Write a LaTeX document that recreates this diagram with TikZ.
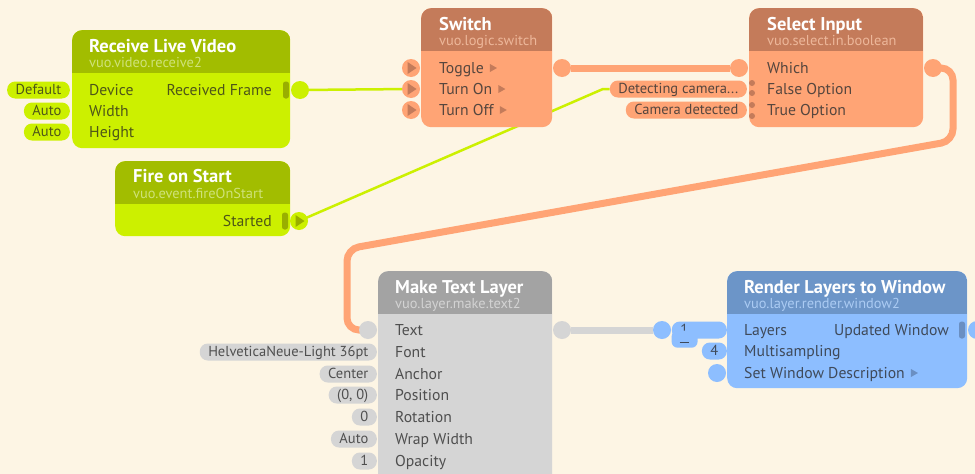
\documentclass[tikz,border=0pt]{standalone}
\usepackage{fontspec}
\setmainfont{PT Sans}
\usetikzlibrary{calc}

\pgfdeclarelayer{back}
\pgfdeclarelayer{wires}
\pgfsetlayers{back,wires,main}

\definecolor{canvas}{HTML}{FDF5E4}
\definecolor{grnH}{HTML}{A2BD00}
\definecolor{grnB}{HTML}{CCF000}
\definecolor{grnS}{HTML}{CFE27A}
\definecolor{grnD}{HTML}{99AE00}
\definecolor{grnT}{HTML}{4E5618}
\definecolor{orgH}{HTML}{C47B5A}
\definecolor{orgB}{HTML}{FFA475}
\definecolor{orgS}{HTML}{EDB79A}
\definecolor{orgT}{HTML}{56463E}
\definecolor{gryH}{HTML}{A3A3A3}
\definecolor{gryB}{HTML}{D5D5D5}
\definecolor{gryS}{HTML}{D3D3D3}
\definecolor{gryT}{HTML}{4F4F4F}
\definecolor{bluH}{HTML}{6C95C8}
\definecolor{bluB}{HTML}{8DBEFF}
\definecolor{bluS}{HTML}{ABCBF3}
\definecolor{bluD}{HTML}{6A8FC2}
\definecolor{bluT}{HTML}{3F4A5A}

% event triangles: in a port circle, and after a label
\newcommand{\portevt}[2]{\fill[#1] (#2) ++(-3.5pt,6pt) -- ++(9pt,-6pt) -- ++(-9pt,-6pt) -- cycle;}
\newcommand{\lblevt}[2]{\fill[#1] (#2) ++(0pt,4pt) -- ++(7pt,-4pt) -- ++(-7pt,-4pt) -- cycle;}

\begin{document}
\begin{tikzpicture}[
    x=1pt, y=-1pt,
    blk/.style={anchor=north west, rounded corners=10pt, inner sep=0pt},
    hdr/.style={path picture={\fill[#1, sharp corners] (path picture bounding box.north west)
        rectangle ([yshift=-43pt]path picture bounding box.north east);}},
    ttl/.style={anchor=base west, inner sep=0pt, text=white, font=\bfseries\fontsize{18.5}{20}\selectfont},
    sub/.style={anchor=base west, inner sep=0pt, font=\fontsize{14.4}{16}\selectfont},
    lbl/.style={anchor=base west, yshift=-5pt, inner sep=0pt, font=\fontsize{15.7}{17}\selectfont},
    rlbl/.style={lbl, anchor=base east},
    pill/.style={anchor=east, rounded corners=8pt, minimum height=17pt, inner xsep=8.5pt,
        inner ysep=0pt, text height=11pt, text depth=2pt, font=\fontsize{14.5}{15}\selectfont},
    port/.style={circle, inner sep=0pt, minimum size=18pt},
    dot/.style={circle, inner sep=0pt, minimum size=6pt, fill=orgH},
    bar/.style={rounded corners=2.5pt, minimum width=6pt, minimum height=17pt, inner sep=0pt},
    wire/.style={line width=2.5pt},
    fat/.style={line width=7pt}
  ]
    \useasboundingbox (0,0) rectangle (975,474);
    \begin{pgfonlayer}{back}
      \fill[canvas] (0,0) rectangle (975,474);
    \end{pgfonlayer}

    % Receive Live Video
    \node[blk, fill=grnB, hdr=grnH, minimum width=218pt, minimum height=118pt] (recv) at (72,30) {};
    \node[ttl] (recv-t) at (89,52) {Receive Live Video};
    \node[sub, text=grnS] (recv-s) at (89,67) {vuo.video.receive2};
    \node[lbl, text=grnT] (recv-l1) at (89,90) {Device};
    \node[lbl, text=grnT] (recv-l2) at (89,111) {Width};
    \node[lbl, text=grnT] (recv-l3) at (89,132) {Height};
    \node[rlbl, text=grnT] (recv-o1) at (272,90) {Received Frame};
    \node[bar, fill=grnD] (recv-bar) at (286,90) {};
    \node[port, fill=grnB] (recv-out) at (300,90) {};
    \node[pill, fill=grnB, text=grnT] (recv-v1) at (70,90) {Default};
    \node[pill, fill=grnB, text=grnT] (recv-v2) at (70,111) {Auto};
    \node[pill, fill=grnB, text=grnT] (recv-v3) at (70,132) {Auto};

    % Fire on Start
    \node[blk, fill=grnB, hdr=grnH, minimum width=175pt, minimum height=75pt] (fire) at (115,161) {};
    \node[ttl] (fire-t) at (133,182) {Fire on Start};
    \node[sub, text=grnS] (fire-s) at (133,198) {vuo.event.fireOnStart};
    \node[rlbl, text=grnT] (fire-o1) at (272,221) {Started};
    \node[bar, fill=grnD] (fire-bar) at (285,221) {};
    \node[port, fill=grnB] (fire-out) at (299,221) {};
    \portevt{grnD}{fire-out.center}

    % Switch
    \node[blk, fill=orgB, hdr=orgH, minimum width=131pt, minimum height=119pt] (sw) at (421,8) {};
    \node[ttl] (sw-t) at (439,30) {Switch};
    \node[sub, text=orgS] (sw-s) at (439,45) {vuo.logic.switch};
    \node[lbl, text=orgT] (sw-l1) at (439,68) {Toggle};
    \node[lbl, text=orgT] (sw-l2) at (439,89) {Turn On};
    \node[lbl, text=orgT] (sw-l3) at (439,110) {Turn Off};
    \lblevt{orgH}{[xshift=6pt, yshift=5pt]sw-l1.base east}
    \lblevt{orgH}{[xshift=6pt, yshift=5pt]sw-l2.base east}
    \lblevt{orgH}{[xshift=6pt, yshift=5pt]sw-l3.base east}
    \node[port, fill=orgB] (sw-p1) at (411,68) {};
    \node[port, fill=orgB] (sw-p2) at (411,89) {};
    \node[port, fill=orgB] (sw-p3) at (411,110) {};
    \portevt{orgH}{sw-p1.center}
    \portevt{orgH}{sw-p2.center}
    \portevt{orgH}{sw-p3.center}
    \node[port, fill=orgB] (sw-out) at (562,68) {};

    % Select Input
    \node[blk, fill=orgB, hdr=orgH, minimum width=174pt, minimum height=119pt] (sel) at (749,8) {};
    \node[ttl] (sel-t) at (767,30) {Select Input};
    \node[sub, text=orgS] (sel-s) at (767,45) {vuo.select.in.boolean};
    \node[lbl, text=orgT] (sel-l1) at (767,68) {Which};
    \node[lbl, text=orgT] (sel-l2) at (767,89) {False Option};
    \node[lbl, text=orgT] (sel-l3) at (767,110) {True Option};
    \node[port, fill=orgB] (sel-in1) at (739,68) {};
    \node[dot] (sel-d1) at (752,83) {};
    \node[dot] (sel-d2) at (752,93) {};
    \node[dot] (sel-d3) at (752,105) {};
    \node[dot] (sel-d4) at (752,116) {};
    \node[pill, fill=orgB, text=orgT] (sel-v1) at (747,89) {Detecting camera...};
    \node[pill, fill=orgB, text=orgT] (sel-v2) at (747,110) {Camera detected};
    \node[port, fill=orgB] (sel-out) at (933,68) {};

    % Make Text Layer
    \node[blk, fill=gryB, hdr=gryH, minimum width=174pt, minimum height=240pt] (mt) at (378,271) {};
    \node[ttl] (mt-t) at (395,293) {Make Text Layer};
    \node[sub, text=gryS] (mt-s) at (395,308) {vuo.layer.make.text2};
    \node[lbl, text=gryT] (mt-l1) at (395,330) {Text};
    \node[lbl, text=gryT] (mt-l2) at (395,352) {Font};
    \node[lbl, text=gryT] (mt-l3) at (395,374) {Anchor};
    \node[lbl, text=gryT] (mt-l4) at (395,395) {Position};
    \node[lbl, text=gryT] (mt-l5) at (395,417) {Rotation};
    \node[lbl, text=gryT] (mt-l6) at (395,439) {Wrap Width};
    \node[lbl, text=gryT] (mt-l7) at (395,461) {Opacity};
    \node[port, fill=gryB] (mt-p1) at (368,330) {};
    \node[pill, fill=gryB, text=gryT] (mt-v2) at (377,352) {HelveticaNeue-Light 36pt};
    \node[pill, fill=gryB, text=gryT] (mt-v3) at (377,374) {Center};
    \node[pill, fill=gryB, text=gryT] (mt-v4) at (377,395) {(0, 0)};
    \node[pill, fill=gryB, text=gryT] (mt-v5) at (377,417) {0};
    \node[pill, fill=gryB, text=gryT] (mt-v6) at (377,439) {Auto};
    \node[pill, fill=gryB, text=gryT] (mt-v7) at (377,461) {1};
    \node[port, fill=gryB] (mt-out) at (562,330) {};

    % Render Layers to Window
    \node[blk, fill=bluB, hdr=bluH, minimum width=240pt, minimum height=117pt] (rw) at (727,271) {};
    \node[ttl] (rw-t) at (744,293) {Render Layers to Window};
    \node[sub, text=bluS] (rw-s) at (744,308) {vuo.layer.render.window2};
    \node[lbl, text=bluT] (rw-l1) at (744,330) {Layers};
    \node[lbl, text=bluT] (rw-l2) at (744,351) {Multisampling};
    \node[lbl, text=bluT] (rw-l3) at (744,373) {Set Window Description};
    \lblevt{bluD}{[xshift=6pt, yshift=5pt]rw-l3.base east}
    \node[rlbl, text=bluT] (rw-o1) at (949,330) {Updated Window};
    \node[bar, fill=bluD] (rw-bar) at (962,330) {};
    \node[port, fill=bluB] (rw-out) at (977,330) {};
    \node[pill, fill=bluB, text=bluT, minimum width=55pt, text width=38pt, align=left] (rw-v1) at (727,330) {1};
    \fill[bluB, rounded corners=6pt] ([yshift=8pt]rw-v1.south west) rectangle ([xshift=26pt, yshift=-9pt]rw-v1.south west);
    \draw[bluT, line width=0.6pt] ([xshift=8pt, yshift=-4pt]rw-v1.south west) -- ++(9pt,0pt);
    \node[pill, fill=bluB, text=bluT] (rw-v2) at (727,351) {4};
    \node[port, fill=bluB] (rw-p1) at (662,330) {};
    \node[port, fill=bluB] (rw-p3) at (717,373) {};

    % cables
    \coordinate (kink) at (603,89);
    \coordinate (bend1) at (953,141);
    \coordinate (bend2) at (347,249);
    \begin{pgfonlayer}{wires}
      \draw[wire, grnB] (recv-out) -- (sw-p2);
      \draw[wire, grnB] (fire-out.center) -- (kink) -- (sel-v1.west);
      \draw[fat, orgB] (sw-out) -- (sel-in1);
      \draw[fat, orgB, rounded corners=12pt] (sel-out.center) -| (bend1) -- (bend2) |- (mt-p1.center);
      \draw[fat, gryB] (mt-out) -- (rw-p1);
    \end{pgfonlayer}
  \end{tikzpicture}
\end{document}
